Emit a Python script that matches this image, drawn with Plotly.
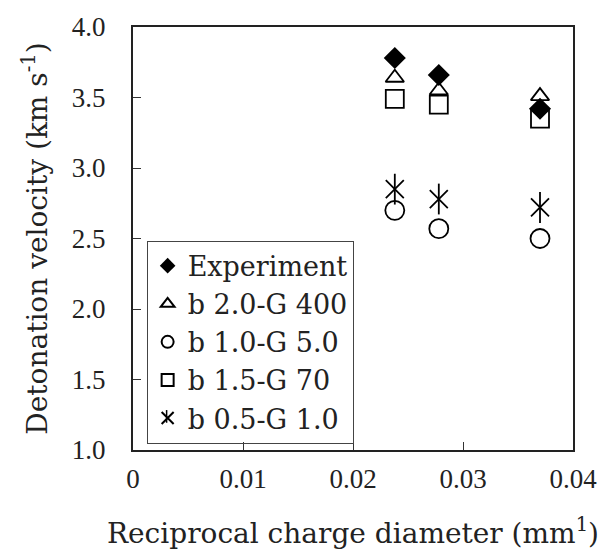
import plotly.graph_objects as go

# Reciprocal charge diameter (mm^-1)
x_vals = [0.0238, 0.0278, 0.0370]

experiment = [3.78, 3.66, 3.42]
b20_g400 = [3.64, 3.55, 3.51]
b10_g50 = [2.70, 2.57, 2.50]
b15_g70 = [3.49, 3.45, 3.35]
b05_g10 = [2.85, 2.78, 2.72]

x_ticks = [0, 0.01, 0.02, 0.03, 0.04]
x_ticklabels = ["0", "0.01", "0.02", "0.03", "0.04"]
y_ticks = [1.0, 1.5, 2.0, 2.5, 3.0, 3.5, 4.0]
y_ticklabels = ["1.0", "1.5", "2.0", "2.5", "3.0", "3.5", "4.0"]

TXT = "DejaVu Serif"
NUM = "Liberation Serif"
LW = 1.8

fig = go.Figure()

fig.add_trace(go.Scatter(
    x=x_vals, y=experiment, mode="markers", name="Experiment", legendgroup="a",
    marker=dict(symbol="diamond", size=17, color="black", line=dict(width=0))))
fig.add_trace(go.Scatter(
    x=x_vals, y=b20_g400, mode="markers", name="b 2.0-G 400", legendgroup="b",
    marker=dict(symbol="triangle-up-open", size=16, color="black", line=dict(width=LW))))
fig.add_trace(go.Scatter(
    x=x_vals, y=b10_g50, mode="markers", name="b 1.0-G 5.0", legendgroup="c",
    marker=dict(symbol="circle-open", size=19, color="black", line=dict(width=LW))))
fig.add_trace(go.Scatter(
    x=x_vals, y=b15_g70, mode="markers", name="b 1.5-G 70", legendgroup="d",
    marker=dict(symbol="square-open", size=18, color="black", line=dict(width=LW))))
fig.add_trace(go.Scatter(
    x=x_vals, y=b05_g10, mode="markers", name="b 0.5-G 1.0", legendgroup="e",
    marker=dict(symbol="x-thin-open", size=18, color="black", line=dict(width=LW, color="black"))))
fig.add_trace(go.Scatter(
    x=x_vals, y=b05_g10, mode="markers", name="b 0.5-G 1.0", legendgroup="e", showlegend=False,
    marker=dict(symbol="line-ns-open", size=22, color="black", line=dict(width=LW, color="black"))))

# vertical stroke completing the asterisk symbol in the legend
fig.add_shape(type="line", xref="paper", yref="paper",
              x0=0.0764, x1=0.0764, y0=0.0794 - 0.015, y1=0.0794 + 0.015,
              line=dict(color="black", width=1.5), layer="above")

fig.update_layout(
    width=609, height=556,
    margin=dict(l=133, r=31, t=23, b=105),
    paper_bgcolor="white", plot_bgcolor="white",
    showlegend=True,
    legend=dict(
        x=0.031, y=0.495, xanchor="left", yanchor="top",
        font=dict(family=TXT, size=27, color="#222"),
        bordercolor="#444", borderwidth=1, bgcolor="rgba(0,0,0,0)",
        itemsizing="constant", tracegroupgap=0,
    ),
    xaxis=dict(
        range=[0, 0.04], tickvals=x_ticks, ticktext=x_ticklabels,
        ticks="inside", ticklen=8, tickwidth=1, tickcolor="#333",
        showgrid=False, zeroline=False,
        showline=True, linecolor="#222", linewidth=2, mirror=True,
        tickfont=dict(family=NUM, size=27, color="#222"),
        ticklabelstandoff=4,
        title=dict(text="Reciprocal charge diameter (mm<sup>1</sup>)",
                   font=dict(family=TXT, size=28, color="#222"), standoff=30),
    ),
    yaxis=dict(
        range=[1.0, 4.0], tickvals=y_ticks, ticktext=y_ticklabels,
        ticks="inside", ticklen=8, tickwidth=1, tickcolor="#333",
        showgrid=False, zeroline=False,
        showline=True, linecolor="#222", linewidth=2, mirror=True,
        tickfont=dict(family=NUM, size=27, color="#222"),
        ticklabelstandoff=20,
        title=dict(text="Detonation velocity (km s<sup>-1</sup>)",
                   font=dict(family=TXT, size=28, color="#222"), standoff=16),
    ),
)

fig.write_html("out.html")
